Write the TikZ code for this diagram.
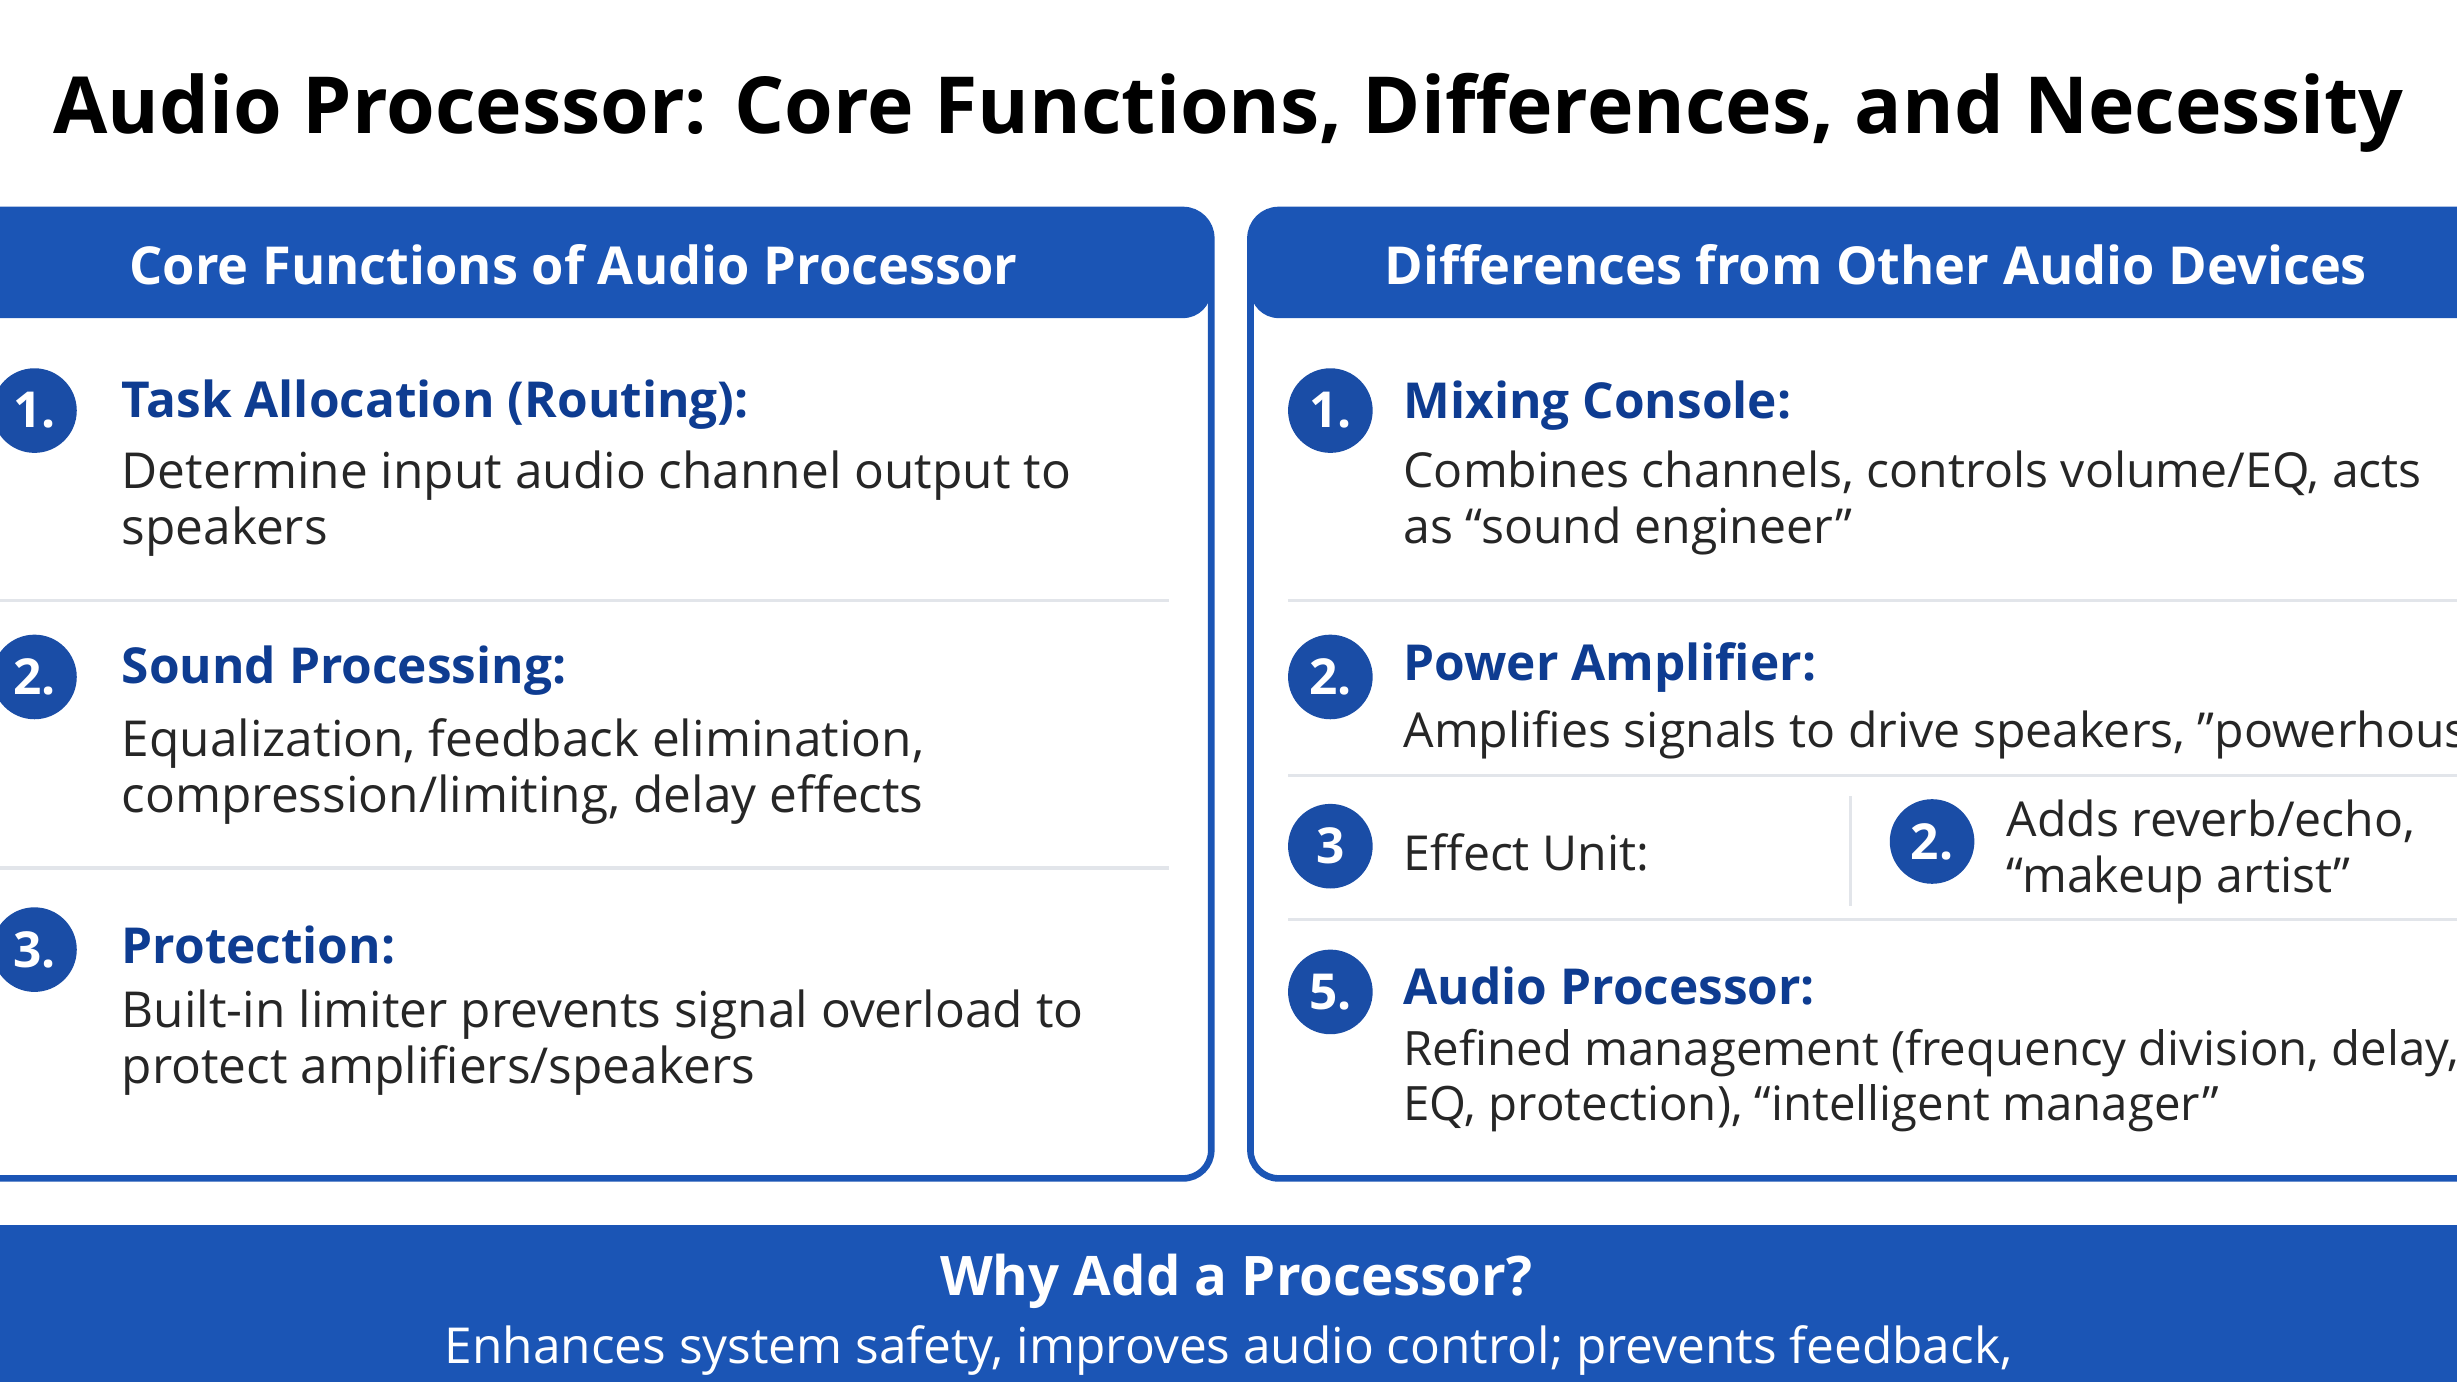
\documentclass[tikz,border=0pt]{standalone}
\usepackage{fontspec}
\setmainfont{Open Sans}
\usetikzlibrary{positioning}
\definecolor{hdblue}{HTML}{1B55B5}
\definecolor{ttblue}{HTML}{0E3C91}
\definecolor{dotblue}{HTML}{1A4DA6}
\definecolor{sepgray}{HTML}{E2E5EA}
\begin{document}
\begin{tikzpicture}[x=1cm,y=-1cm,
  numnode/.style={circle, fill=dotblue, text=white, font=\bfseries\fontsize{9}{10}\selectfont, minimum size=0.54cm, inner sep=0pt},
  ttnode/.style={anchor=west, text=ttblue, font=\bfseries\fontsize{9}{10}\selectfont, inner sep=0pt},
  dsnode/.style={anchor=north west, text=black!85, font=\fontsize{9}{10.1}\selectfont, align=left, inner sep=0pt},
  rsnode/.style={dsnode, font=\fontsize{8.75}{10.1}\selectfont},
  hdnode/.style={text=white, font=\bfseries\fontsize{9.5}{11}\selectfont},
  sepline/.style={draw=sepgray, line width=0.6pt}]
  \useasboundingbox (0,0) rectangle (15.68,8.82);
  \clip (0,0) rectangle (15.68,8.82);

  % title
  \node[font=\bfseries\fontsize{14.3}{16}\selectfont] (title) at (7.84,0.72) {Audio Processor: Core Functions, Differences, and Necessity};

  % panels
  \draw[hdblue, line width=1.2pt, rounded corners=0.18cm] (-0.2,1.34) rectangle (7.73,7.52);
  \fill[hdblue, rounded corners=0.18cm] (-0.2,1.34) rectangle (7.73,2.03);
  \draw[hdblue, line width=1.2pt, rounded corners=0.18cm] (7.98,1.34) rectangle (16.2,7.52);
  \fill[hdblue, rounded corners=0.18cm] (7.98,1.34) rectangle (16.2,2.03);
  \node[hdnode] (lhead) at (3.66,1.69) {Core Functions of Audio Processor};
  \node[hdnode] (rhead) at (11.97,1.69) {Differences from Other Audio Devices};

  % left items
  \node[numnode] (l1) at (0.22,2.62) {1.};
  \node[ttnode] (l1t) at (0.77,2.58) {Task Allocation (Routing):};
  \node[dsnode] (l1d) at (0.77,2.87) {Determine input audio channel output to\\speakers};
  \draw[sepline] (0,3.83) -- (7.46,3.83);
  \node[numnode] (l2) at (0.22,4.32) {2.};
  \node[ttnode] (l2t) at (0.77,4.28) {Sound Processing:};
  \node[dsnode] (l2d) at (0.77,4.58) {Equalization, feedback elimination,\\compression/limiting, delay effects};
  \draw[sepline] (0,5.54) -- (7.46,5.54);
  \node[numnode] (l3) at (0.22,6.06) {3.};
  \node[ttnode] (l3t) at (0.77,6.03) {Protection:};
  \node[dsnode] (l3d) at (0.77,6.31) {Built-in limiter prevents signal overload to\\protect amplifiers/speakers};

  % right items
  \node[numnode] (r1) at (8.49,2.62) {1.};
  \node[ttnode] (r1t) at (8.95,2.59) {Mixing Console:};
  \node[rsnode] (r1d) at (8.95,2.87) {Combines channels, controls volume/EQ, acts\\as “sound engineer”};
  \draw[sepline] (8.22,3.83) -- (15.68,3.83);
  \node[numnode] (r2) at (8.49,4.32) {2.};
  \node[ttnode] (r2t) at (8.95,4.26) {Power Amplifier:};
  \node[rsnode] (r2d) at (8.95,4.53) {Amplifies signals to drive speakers, "powerhouse"};
  \draw[sepline] (8.22,4.95) -- (15.68,4.95);
  \node[numnode] (r3) at (8.49,5.40) {3};
  \node[rsnode, anchor=west] (r3t) at (8.95,5.44) {Effect Unit:};
  \draw[sepline] (11.81,5.08) -- (11.81,5.78);
  \node[numnode] (r4) at (12.33,5.37) {2.};
  \node[rsnode] (r4d) at (12.80,5.10) {Adds reverb/echo,\\“makeup artist”};
  \draw[sepline] (8.22,5.87) -- (15.68,5.87);
  \node[numnode] (r5) at (8.49,6.33) {5.};
  \node[ttnode] (r5t) at (8.95,6.29) {Audio Processor:};
  \node[rsnode, font=\fontsize{8.6}{10.1}\selectfont] (r5d) at (8.95,6.56) {Refined management (frequency division, delay,\\EQ, protection), “intelligent manager”};

  % bottom band
  \fill[hdblue] (0,7.82) rectangle (15.68,8.82);
  \node[hdnode, font=\bfseries\fontsize{9.9}{11}\selectfont] (why) at (7.89,8.18) {Why Add a Processor?};
  \node[text=white, font=\fontsize{9}{10}\selectfont] (whyd) at (7.84,8.62) {Enhances system safety, improves audio control; prevents feedback,};
\end{tikzpicture}
\end{document}
